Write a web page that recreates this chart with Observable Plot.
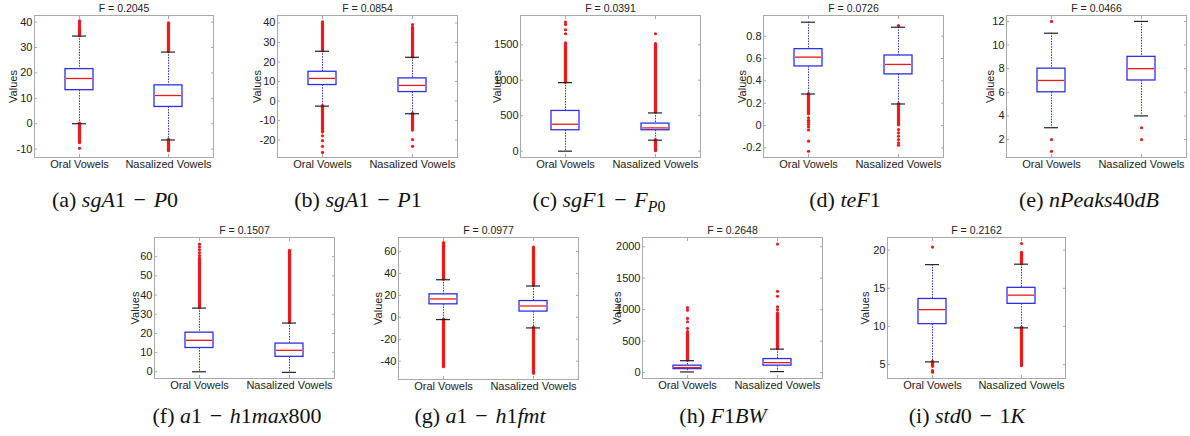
<!DOCTYPE html>
<html><head><meta charset="utf-8">
<script src="https://cdn.jsdelivr.net/npm/d3@7"></script>
<script src="https://cdn.jsdelivr.net/npm/@observablehq/plot@0.6"></script>
<style>
body{margin:0;background:#fff;}
#fig{position:relative;width:1190px;height:436px;overflow:hidden;background:#fff;}
.panel{position:absolute;}
.cap{position:absolute;font-family:"Liberation Serif","DejaVu Serif",serif;font-size:22px;color:#111;white-space:nowrap;transform:translate(-50%,-50%);line-height:22px;}
.cap .op{margin:0 0.35em;}
.cap sub{font-size:0.72em;vertical-align:-0.3em;line-height:0;}
</style></head><body><div id="fig"></div>
<script>
// ---------- data ----------
const categories = ["Oral Vowels", "Nasalized Vowels"];
const fValues = ["0.2045", "0.0854", "0.0391", "0.0726", "0.0466", "0.1507", "0.0977", "0.2648", "0.2162"];
const captions = [
  '(a)&nbsp;<i>sgA</i>1<span class="op">−</span><i>P</i>0',
  '(b)&nbsp;<i>sgA</i>1<span class="op">−</span><i>P</i>1',
  '(c)&nbsp;<i>sgF</i>1<span class="op">−</span><i>F</i><sub><i>P</i>0</sub>',
  '(d)&nbsp;<i>teF</i>1',
  '(e)&nbsp;<i>nPeaks</i>40<i>dB</i>',
  '(f)&nbsp;<i>a</i>1<span class="op">−</span><i>h</i>1<i>max</i>800',
  '(g)&nbsp;<i>a</i>1<span class="op">−</span><i>h</i>1<i>fmt</i>',
  '(h)&nbsp;<i>F</i>1<i>BW</i>',
  '(i)&nbsp;<i>std</i>0<span class="op">−</span>1<i>K</i>'
];
const yDomains = [[-13.3, 42.6], [-28.9, 43.8], [-89, 1912], [-0.286, 0.985], [0.48, 12.5],
                  [-3.5, 70], [-56.7, 72.7], [-94, 2147], [3.17, 21.66]];
const yTicks = [[-10, 0, 10, 20, 30, 40], [-20, -10, 0, 10, 20, 30, 40], [0, 500, 1000, 1500],
                [-0.2, 0, 0.2, 0.4, 0.6, 0.8], [2, 4, 6, 8, 10, 12], [0, 10, 20, 30, 40, 50, 60],
                [-40, -20, 0, 20, 40, 60], [0, 500, 1000, 1500, 2000], [5, 10, 15, 20]];
// box statistics: [oral, nasalized]
const whiskerLow  = [[0, -6.4], [-2.6, -6.5], [0, 155], [0.282, 0.193], [3, 4], [0, -0.3], [-2.1, -9.7], [10, 16], [5.35, 9.81]];
const q1          = [[13.2, 6.6], [8.2, 4.6], [295, 295], [0.529, 0.458], [6, 7], [12.4, 7.8], [11.8, 5.2], [55, 110], [10.3, 12.96]];
const median      = [[17.8, 11.1], [11.6, 8], [380, 328], [0.6125, 0.547], [7, 8], [16.4, 11.2], [16.7, 10.3], [79, 158], [12.2, 14.1]];
const q3          = [[21.5, 15.1], [15, 11.6], [567, 389], [0.684, 0.627], [8, 9], [20.4, 14.7], [20.9, 14.8], [110, 215], [13.6, 15.06]];
const whiskerHigh = [[34.5, 28.2], [25.5, 22.4], [966, 539], [0.925, 0.88], [11, 12], [33.2, 25.4], [34.2, 28.5], [189, 373], [18.1, 18.16]];
// runs of overlapping outliers: [panel, group, from, to]
const denseOutliers = [
  [0, 0, 34.5, 37.2], [0, 0, 0, -7.7], [0, 1, 28.2, 39.5], [0, 1, -6.4, -10.8],
  [1, 0, 25.5, 40.3], [1, 0, -2.6, -16.1], [1, 1, 22.4, 37.5], [1, 1, -6.5, -15.1],
  [2, 0, 966, 1520], [2, 1, 539, 1510], [2, 1, 155, 0],
  [3, 0, 0.282, 0.1], [3, 1, 0.193, 0.002],
  [5, 0, 33.2, 59], [5, 1, 25.4, 63],
  [6, 0, 34.2, 67.6], [6, 0, -2.1, -45.5], [6, 1, 28.5, 63.6], [6, 1, -9.7, -51.5],
  [7, 0, 189, 620], [7, 1, 373, 940],
  [8, 0, 5.35, 4.7], [8, 1, 18.16, 19.65], [8, 1, 9.81, 4.78]
];
// isolated outliers: [panel, group, value]
const sparseOutliers = [
  [0, 0, 37.9], [0, 0, 38.6], [0, 0, 39.3], [0, 0, 40], [0, 0, 40.5], [0, 0, -9.7],
  [1, 0, -17.8], [1, 0, -20.3], [1, 0, -23.2], [1, 0, -26.3], [1, 1, 39.1], [1, 1, -19.7], [1, 1, -23.2],
  [2, 0, 1655], [2, 0, 1711], [2, 0, 1786], [2, 0, 1819], [2, 1, 1655],
  [3, 0, 0.07], [3, 0, 0.047], [3, 0, 0.03], [3, 0, 0.01], [3, 0, -0.012], [3, 0, -0.04], [3, 0, -0.14], [3, 0, -0.23],
  [3, 1, 0.895], [3, 1, -0.036], [3, 1, -0.066], [3, 1, -0.096], [3, 1, -0.126], [3, 1, -0.155], [3, 1, -0.176],
  [4, 0, 12], [4, 0, 2], [4, 0, 1], [4, 1, 3], [4, 1, 2],
  [5, 0, 60.5], [5, 0, 62], [5, 0, 63.5], [5, 0, 65], [5, 0, 66.5],
  [7, 0, 650], [7, 0, 703], [7, 0, 808], [7, 0, 861], [7, 0, 992], [7, 0, 1034],
  [7, 1, 1000], [7, 1, 1045], [7, 1, 1213], [7, 1, 1291], [7, 1, 2042],
  [8, 0, 20.4], [8, 0, 4.2], [8, 0, 4.0], [8, 1, 20.87]
];

// ---------- layout ----------
const frames = [[34, 15, 213, 157], [277, 15, 457, 157], [520, 15, 700, 157], [763, 15, 943, 157], [1006, 15, 1186, 157],
                [154, 237, 334, 378], [398, 237, 578, 379], [642, 237, 822, 378], [887, 237, 1065, 378]];
const labelOffsets = [21, 20, 23, 21, 16, 19, 20, 25, 22];
const capCenters = [[115, 200], [358, 200], [599, 200], [845, 200], [1089, 200],
                    [237, 416], [480, 416], [723, 416], [967, 416]];

const BLUE = "#2f2fe6", RED = "#f01818", CAP = "#222", FRAME = "#a8a8a8";
const fig = document.getElementById("fig");
const ML = 44, MR = 4, MT = 15, MB = 18;

frames.forEach(([x0, y0, x1, y1], k) => {
  const fw = x1 - x0, fh = y1 - y0;
  const boxes = categories.map((c, i) => ({cat: c, lo: whiskerLow[k][i], q1: q1[k][i], med: median[k][i], q3: q3[k][i], hi: whiskerHigh[k][i]}));
  const dense = denseOutliers.filter(d => d[0] === k).map(d => ({cat: categories[d[1]], from: d[2], to: d[3]}));
  const sparse = sparseOutliers.filter(d => d[0] === k).map(d => ({cat: categories[d[1]], v: d[2]}));
  const p = 1 - 28 / (fw / 2);
  const svg = Plot.plot({
    width: fw + ML + MR, height: fh + MT + MB,
    marginLeft: ML, marginRight: MR, marginTop: MT, marginBottom: MB,
    style: {fontFamily: "'Liberation Sans', Arial, sans-serif", fontSize: "11px", color: "#222", background: "transparent", overflow: "visible"},
    x: {type: "band", domain: categories, paddingInner: p, paddingOuter: p / 2, align: 0.5},
    y: {domain: yDomains[k]},
    marks: [
      Plot.frame({stroke: FRAME}),
      Plot.ruleX(boxes, {x: "cat", y1: "hi", y2: "q3", stroke: BLUE, strokeWidth: 1, strokeDasharray: "1.5,1.2"}),
      Plot.ruleX(boxes, {x: "cat", y1: "q1", y2: "lo", stroke: BLUE, strokeWidth: 1, strokeDasharray: "1.5,1.2"}),
      Plot.ruleX(dense, {x: "cat", y1: "from", y2: "to", stroke: RED, strokeWidth: 3.2, strokeLinecap: "round"}),
      Plot.dot(sparse, {x: "cat", y: "v", r: 1.6, fill: RED, stroke: null}),
      Plot.tickY(boxes, {x: "cat", y: "hi", stroke: CAP, strokeWidth: 1.2, insetLeft: 7, insetRight: 7}),
      Plot.tickY(boxes, {x: "cat", y: "lo", stroke: CAP, strokeWidth: 1.2, insetLeft: 7, insetRight: 7}),
      Plot.barY(boxes, {x: "cat", y1: "q1", y2: "q3", fill: "white", stroke: BLUE, strokeWidth: 1.3}),
      Plot.tickY(boxes, {x: "cat", y: "med", stroke: RED, strokeWidth: 1.3, insetLeft: 1, insetRight: 1}),
      Plot.axisY({anchor: "left", ticks: yTicks[k], tickSize: -3, tickPadding: 5, stroke: FRAME, fill: "#222",
                  tickFormat: d => String(d), label: null}),
      Plot.axisY({anchor: "right", ticks: yTicks[k], tickSize: -3, tickFormat: () => "", stroke: FRAME, label: null}),
      Plot.axisX({anchor: "bottom", tickSize: -3, tickPadding: 6, stroke: FRAME, fill: "#222", label: null}),
      Plot.axisX({anchor: "top", tickSize: -3, tickFormat: () => "", stroke: FRAME, label: null}),
      Plot.text(["Values"], {frameAnchor: "left", dx: -labelOffsets[k], rotate: -90, lineAnchor: "middle", textAnchor: "middle", fill: "#222", fontSize: 11}),
      Plot.text(["F = " + fValues[k]], {frameAnchor: "top", dy: -7, lineAnchor: "middle", fill: "#222", fontSize: 10.5})
    ]
  });
  const div = document.createElement("div");
  div.className = "panel";
  div.style.left = (x0 - ML) + "px";
  div.style.top = (y0 - MT) + "px";
  div.appendChild(svg);
  fig.appendChild(div);

  const cap = document.createElement("div");
  cap.className = "cap";
  cap.style.left = capCenters[k][0] + "px";
  cap.style.top = capCenters[k][1] + "px";
  cap.innerHTML = captions[k];
  fig.appendChild(cap);
});
</script>
</body></html>
